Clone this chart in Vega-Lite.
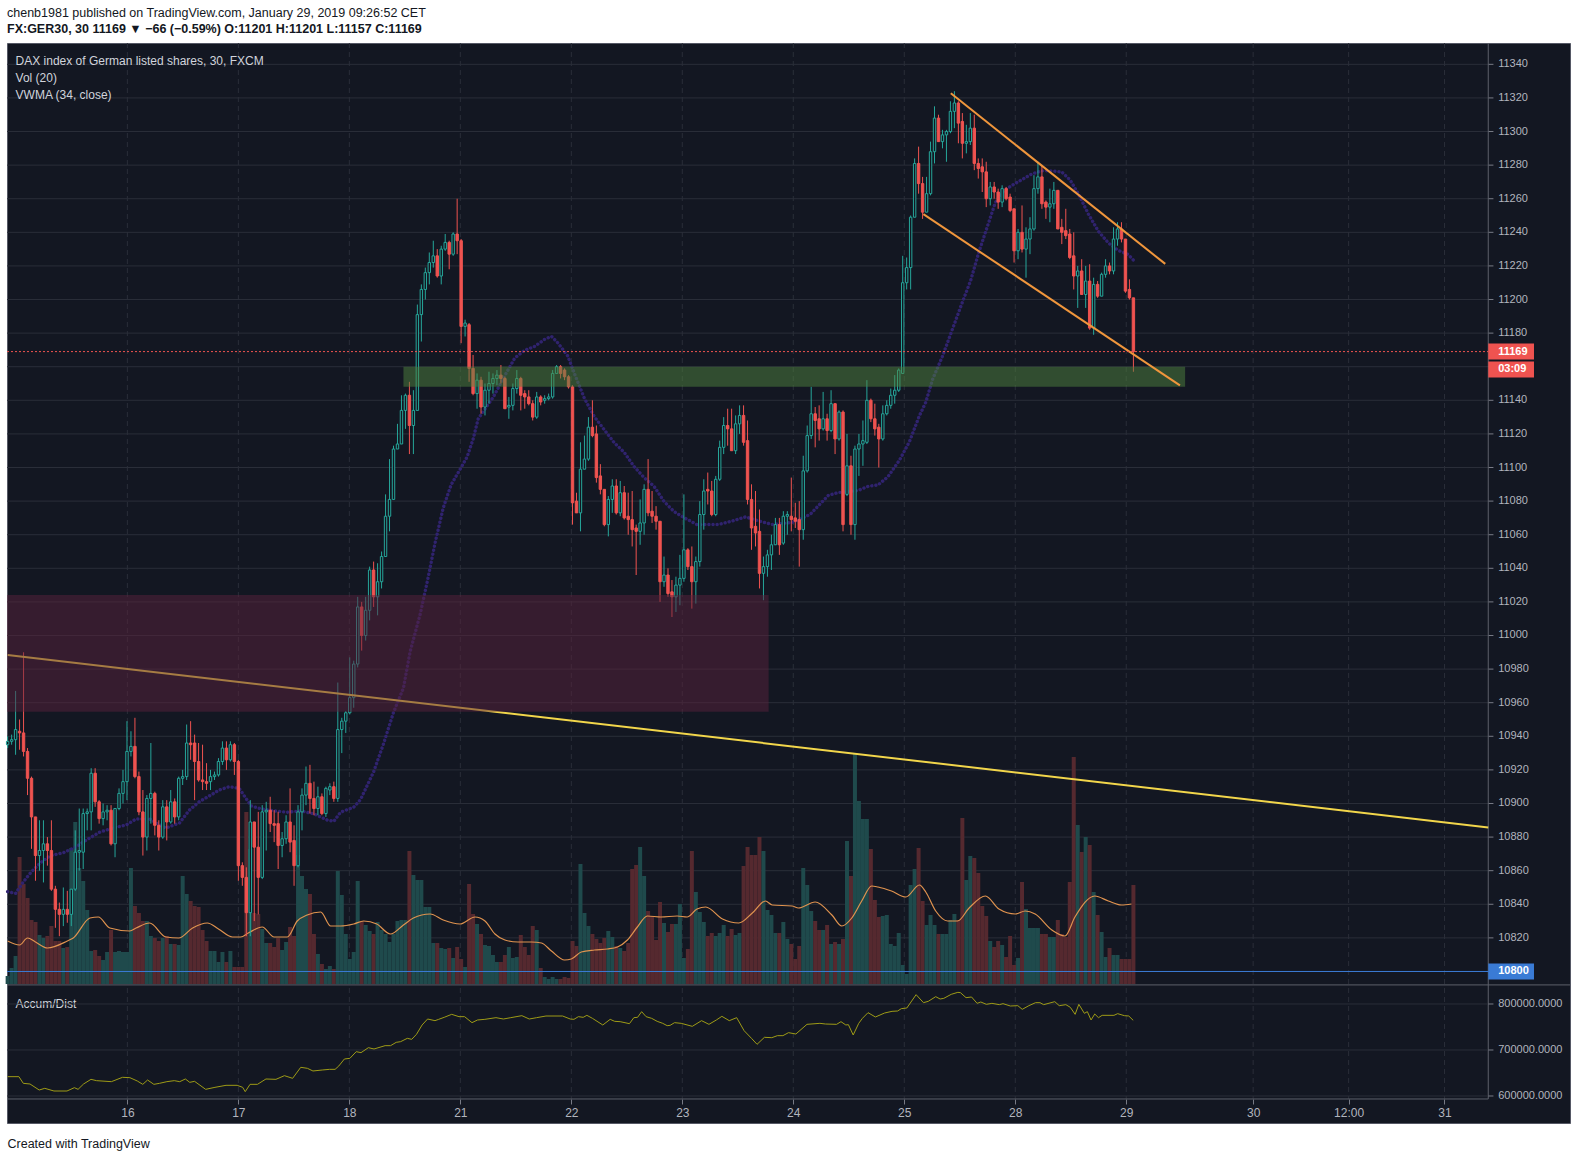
{
"$schema": "https://vega.github.io/schema/vega-lite/v6.json",
"width": 1563, "height": 1080, "autosize": "none",
"padding": {"left": 7, "top": 43, "right": 7, "bottom": 38},
"background": "white",
"config": {"view": {"fill": "#131722", "stroke": "#555865", "strokeWidth": 1}, "font": "Liberation Sans", "axis": {"grid": false, "domain": false}},
"title": {"text": "chenb1981 published on TradingView.com, January 29, 2019 09:26:52 CET", "subtitle": "FX:GER30, 30  11169 \u25bc \u221266 (\u22120.59%)  O:11201 H:11201 L:11157 C:11169", "anchor": "start", "frame": "group", "offset": 7, "font": "Liberation Sans", "fontSize": 12.5, "fontWeight": "normal", "color": "#131722", "subtitleFont": "Liberation Sans", "subtitleFontSize": 12.5, "subtitleFontWeight": "bold", "subtitleColor": "#131722", "subtitlePadding": 4},
"datasets": {
"days": [{"i":30.1},{"i":58},{"i":85.9},{"i":113.8},{"i":141.7},{"i":169.6},{"i":197.5},{"i":225.4},{"i":253.3},{"i":281.2},{"i":313.1},{"i":337.1},{"i":361.2}],
"hg": [{"p":10800},{"p":10820},{"p":10840},{"p":10860},{"p":10880},{"p":10900},{"p":10920},{"p":10940},{"p":10960},{"p":10980},{"p":11000},{"p":11020},{"p":11040},{"p":11060},{"p":11080},{"p":11100},{"p":11120},{"p":11140},{"p":11160},{"p":11180},{"p":11200},{"p":11220},{"p":11240},{"p":11260},{"p":11280},{"p":11300},{"p":11320},{"p":11340}],
"adg": [{"g":600000},{"g":700000},{"g":800000}],
"zones": [{"z":"res","a":-0.16,"b":191.3,"lo":10954.6,"hi":11024.1},{"z":"sup","a":99.5,"b":296,"lo":11148,"hi":11160}],
"tl": [{"i":0,"p":10988.4},{"i":372.2,"p":10885.7}],
"ch": [{"ln":"up","i":237.1,"p":11322.8},{"ln":"up","i":291,"p":11221.2},{"ln":"dn","i":230.2,"p":11250.8},{"ln":"dn","i":294.7,"p":11148.9}],
"tags": [{"t":"11169","p":11169,"k":"last"},{"t":"03:09","p":11158.4,"k":"last"},{"t":"10800","p":10800,"k":"line"}],
"notes": [{"n":"DAX index of German listed shares, 30, FXCM","i":2,"p":11342.1},{"n":"Vol (20)","i":2,"p":11331.8},{"n":"VWMA (34, close)","i":2,"p":11322},{"n":"Accum/Dist","i":2,"p":10780.5}],
"vma": [{"i":0,"v":215},{"i":3,"v":195},{"i":5,"v":230},{"i":7,"v":210},{"i":10,"v":180},{"i":15,"v":215},{"i":16.5,"v":230},{"i":20.7,"v":330},{"i":22.8,"v":335},{"i":25.7,"v":280},{"i":30.7,"v":265},{"i":32.3,"v":280},{"i":35.7,"v":305},{"i":39.8,"v":235},{"i":43,"v":230},{"i":46.5,"v":280},{"i":50.2,"v":305},{"i":53,"v":275},{"i":56.5,"v":235},{"i":58.6,"v":235},{"i":60.5,"v":255},{"i":64,"v":285},{"i":67,"v":235},{"i":70.3,"v":235},{"i":72.8,"v":315},{"i":75.3,"v":345},{"i":78.7,"v":360},{"i":81.2,"v":290},{"i":83.7,"v":290},{"i":87,"v":300},{"i":89.5,"v":315},{"i":92.8,"v":300},{"i":96.2,"v":250},{"i":99.5,"v":295},{"i":102,"v":330},{"i":106.2,"v":350},{"i":109.5,"v":320},{"i":113.7,"v":300},{"i":117.5,"v":335},{"i":120,"v":315},{"i":122.5,"v":250},{"i":125,"v":220},{"i":128.3,"v":210},{"i":131.7,"v":210},{"i":134.2,"v":205},{"i":136.7,"v":165},{"i":140,"v":120},{"i":141.7,"v":125},{"i":144.2,"v":160},{"i":147.5,"v":170},{"i":150.8,"v":175},{"i":153.3,"v":185},{"i":155.8,"v":220},{"i":158.3,"v":285},{"i":160.8,"v":340},{"i":164.2,"v":335},{"i":168.3,"v":340},{"i":170.8,"v":335},{"i":173.3,"v":375},{"i":175.5,"v":385},{"i":179.7,"v":325},{"i":183.8,"v":305},{"i":187.2,"v":355},{"i":190.5,"v":415},{"i":192.2,"v":395},{"i":197.2,"v":390},{"i":198.8,"v":380},{"i":203,"v":410},{"i":207.2,"v":345},{"i":209.7,"v":290},{"i":212.2,"v":330},{"i":214.7,"v":415},{"i":217.2,"v":490},{"i":218.8,"v":485},{"i":222.2,"v":465},{"i":225.8,"v":435},{"i":229.2,"v":495},{"i":230.8,"v":460},{"i":233.3,"v":365},{"i":236.3,"v":315},{"i":238.8,"v":315},{"i":241.7,"v":380},{"i":245.8,"v":440},{"i":249.2,"v":375},{"i":253.3,"v":350},{"i":255.8,"v":365},{"i":258.3,"v":350},{"i":262.5,"v":270},{"i":265.8,"v":240},{"i":268.3,"v":335},{"i":273.3,"v":440},{"i":276.7,"v":415},{"i":280,"v":395},{"i":282.5,"v":400}],
"vwma": [{"i":0,"p":10847.5},{"i":2,"p":10846.5},{"i":4,"p":10853.5},{"i":6,"p":10859.4},{"i":8.2,"p":10864.6},{"i":10.7,"p":10868.9},{"i":14,"p":10870.7},{"i":17.3,"p":10874.3},{"i":19.8,"p":10878.3},{"i":23.2,"p":10883},{"i":26.5,"p":10885.4},{"i":29.8,"p":10887.2},{"i":32.3,"p":10890.8},{"i":35.7,"p":10890.8},{"i":37.3,"p":10888.4},{"i":39.8,"p":10885.4},{"i":43.2,"p":10888.4},{"i":45.7,"p":10896.1},{"i":48.2,"p":10901.1},{"i":50.7,"p":10904.5},{"i":53.2,"p":10908},{"i":55.7,"p":10910},{"i":58.2,"p":10909},{"i":61.2,"p":10898.6},{"i":63.7,"p":10896.8},{"i":67,"p":10895.6},{"i":70.3,"p":10894.8},{"i":73.7,"p":10895.6},{"i":77,"p":10893.8},{"i":80.3,"p":10890.2},{"i":82,"p":10889.4},{"i":83.7,"p":10894.8},{"i":87,"p":10897.8},{"i":88.7,"p":10902.3},{"i":92,"p":10918.8},{"i":94.5,"p":10935.6},{"i":97,"p":10954.2},{"i":99.5,"p":10968.8},{"i":101.2,"p":10990.6},{"i":103.7,"p":11012.6},{"i":105.5,"p":11032.2},{"i":107.5,"p":11055.6},{"i":109.5,"p":11076},{"i":111.5,"p":11089.8},{"i":113.7,"p":11098.8},{"i":115.5,"p":11106.3},{"i":117,"p":11116.8},{"i":118.3,"p":11129},{"i":122.1,"p":11142},{"i":125,"p":11154.8},{"i":127.5,"p":11165.2},{"i":130,"p":11169.8},{"i":132.5,"p":11172.1},{"i":135,"p":11176.3},{"i":136.7,"p":11178.1},{"i":138.3,"p":11174.2},{"i":140.8,"p":11166.4},{"i":142.7,"p":11154.6},{"i":145,"p":11141.1},{"i":147.5,"p":11130.2},{"i":150,"p":11122.4},{"i":152.5,"p":11114.7},{"i":155,"p":11109},{"i":157.5,"p":11100.5},{"i":160,"p":11094},{"i":162.5,"p":11088.8},{"i":165,"p":11079.8},{"i":167.5,"p":11073.8},{"i":170,"p":11070.2},{"i":173.3,"p":11066},{"i":178.8,"p":11066.1},{"i":182.2,"p":11068.2},{"i":185.5,"p":11070.6},{"i":188.8,"p":11068.2},{"i":192.2,"p":11066.1},{"i":197.2,"p":11067.3},{"i":199.7,"p":11069.8},{"i":201.8,"p":11072.2},{"i":203.8,"p":11077.2},{"i":206.3,"p":11083.4},{"i":208.8,"p":11085.1},{"i":213.8,"p":11086.3},{"i":216.3,"p":11088.8},{"i":218.8,"p":11089.6},{"i":221.3,"p":11094.5},{"i":224.2,"p":11104.4},{"i":226.7,"p":11115.4},{"i":229.2,"p":11130.8},{"i":230.8,"p":11138.8},{"i":232.5,"p":11152.4},{"i":235,"p":11166.2},{"i":237.5,"p":11182.3},{"i":240,"p":11198.4},{"i":242.1,"p":11211.4},{"i":244.2,"p":11228.6},{"i":246.7,"p":11246.4},{"i":248.3,"p":11257.8},{"i":250.4,"p":11264.6},{"i":252.5,"p":11268},{"i":255,"p":11271.4},{"i":257.5,"p":11274.8},{"i":260,"p":11276.6},{"i":262.5,"p":11276.6},{"i":265,"p":11275.9},{"i":267.1,"p":11271.1},{"i":269.2,"p":11262.8},{"i":271.7,"p":11250.8},{"i":274.2,"p":11240.6},{"i":276.7,"p":11233.7},{"i":279.2,"p":11229.2},{"i":281.7,"p":11226.8},{"i":283,"p":11223.4}],
"ad": [{"i":0,"a":642030},{"i":2.83,"a":642030},{"i":3.94,"a":627540},{"i":5.62,"a":626090},{"i":7.93,"a":613040},{"i":9.34,"a":616670},{"i":11.65,"a":610870},{"i":14.92,"a":610870},{"i":16.78,"a":618120},{"i":17.71,"a":614490},{"i":19.09,"a":626090},{"i":20.95,"a":636240},{"i":22.36,"a":633330},{"i":26.08,"a":631160},{"i":28.87,"a":640590},{"i":30.73,"a":639850},{"i":32.59,"a":632610},{"i":33.97,"a":625370},{"i":35.18,"a":634780},{"i":36.76,"a":625370},{"i":38.17,"a":627540},{"i":40.03,"a":631160},{"i":41.89,"a":633330},{"i":43.27,"a":631160},{"i":44.68,"a":636960},{"i":45.78,"a":629710},{"i":46.99,"a":631890},{"i":49.78,"a":614490},{"i":52.12,"a":618850},{"i":54.9,"a":623200},{"i":57.7,"a":623200},{"i":59.08,"a":618850},{"i":59.73,"a":609420},{"i":60.94,"a":625370},{"i":62.8,"a":625370},{"i":64.93,"a":636960},{"i":67.45,"a":636240},{"i":69.58,"a":644200},{"i":71.64,"a":638410},{"i":73.68,"a":662330},{"i":75.36,"a":660160},{"i":76.75,"a":654350},{"i":79.08,"a":656520},{"i":80.94,"a":657980},{"i":82.32,"a":657980},{"i":83.25,"a":665220},{"i":84.66,"a":680440},{"i":86.04,"a":681890},{"i":87.63,"a":696380},{"i":88.83,"a":694200},{"i":90.69,"a":705070},{"i":92.1,"a":702180},{"i":94.89,"a":709420},{"i":96.27,"a":709420},{"i":97.68,"a":716670},{"i":98.79,"a":718120},{"i":100.47,"a":725370},{"i":101.58,"a":723200},{"i":102.78,"a":734070},{"i":104.19,"a":754350},{"i":105.57,"a":767390},{"i":107.43,"a":763770},{"i":108.36,"a":766670},{"i":109.74,"a":771010},{"i":111.63,"a":777540},{"i":113.46,"a":772460},{"i":114.87,"a":772460},{"i":116.73,"a":759420},{"i":118.11,"a":765220},{"i":119.97,"a":766670},{"i":122.76,"a":770280},{"i":124.62,"a":767390},{"i":126.48,"a":770280},{"i":129.27,"a":774630},{"i":131.13,"a":767390},{"i":132.99,"a":770280},{"i":135.33,"a":773910},{"i":139.5,"a":773910},{"i":141.43,"a":767390},{"i":142.36,"a":766670},{"i":143.48,"a":772460},{"i":144.68,"a":771010},{"i":145.61,"a":775370},{"i":147.01,"a":768850},{"i":149.61,"a":754350},{"i":151.47,"a":766670},{"i":152.59,"a":762320},{"i":153.98,"a":761600},{"i":156.31,"a":757250},{"i":157.42,"a":770280},{"i":158.35,"a":771010},{"i":159.38,"a":783330},{"i":160.49,"a":772460},{"i":161.89,"a":768850},{"i":163.28,"a":762320},{"i":164.67,"a":757970},{"i":165.79,"a":752900},{"i":166.53,"a":753620},{"i":167.65,"a":759420},{"i":169.32,"a":757970},{"i":172.11,"a":751450},{"i":174.44,"a":763770},{"i":176.3,"a":755800},{"i":178.16,"a":765220},{"i":179.55,"a":773190},{"i":181.41,"a":763770},{"i":183.27,"a":770280},{"i":185.13,"a":742020},{"i":186.99,"a":725370},{"i":188.39,"a":712330},{"i":190.24,"a":727550},{"i":192.1,"a":726800},{"i":193.5,"a":731160},{"i":194.89,"a":731160},{"i":196.29,"a":737680},{"i":198.15,"a":734780},{"i":200.94,"a":755800},{"i":204.19,"a":757970},{"i":205.59,"a":756520},{"i":208.38,"a":755800},{"i":209.49,"a":761600},{"i":210.7,"a":754350},{"i":211.35,"a":755070},{"i":212.56,"a":732610},{"i":213.95,"a":757970},{"i":214.88,"a":768850},{"i":216.28,"a":781160},{"i":218.14,"a":771740},{"i":220.46,"a":780430},{"i":222.32,"a":784060},{"i":223.72,"a":784780},{"i":224.65,"a":789850},{"i":226.04,"a":791300},{"i":228.37,"a":820280},{"i":230.23,"a":802900},{"i":231.43,"a":805800},{"i":233.3,"a":815940},{"i":234.41,"a":810870},{"i":235.34,"a":812320},{"i":237.2,"a":821020},{"i":238.87,"a":825370},{"i":239.52,"a":824630},{"i":240.92,"a":813770},{"i":242.31,"a":815220},{"i":243.71,"a":801450},{"i":244.64,"a":804350},{"i":246.03,"a":799280},{"i":247.43,"a":801450},{"i":249.29,"a":798540},{"i":250.22,"a":800720},{"i":252.08,"a":795650},{"i":253.94,"a":796370},{"i":255.05,"a":788410},{"i":256.73,"a":796370},{"i":258.4,"a":802900},{"i":259.51,"a":802900},{"i":260.44,"a":798540},{"i":263.24,"a":805070},{"i":264.35,"a":796370},{"i":266.02,"a":798540},{"i":267.14,"a":792760},{"i":268.35,"a":777540},{"i":269.28,"a":799280},{"i":270.67,"a":779720},{"i":271.42,"a":783330},{"i":272.35,"a":765220},{"i":273.28,"a":778260},{"i":274.21,"a":770280},{"i":275.14,"a":775370},{"i":278.11,"a":775370},{"i":279.04,"a":778980},{"i":280.72,"a":774630},{"i":281.83,"a":773910},{"i":282.95,"a":764500}],
"bars": [
{"i":0,"o":10935,"h":10940,"l":10933,"c":10937,"v":40},
{"i":1,"o":10937,"h":10941,"l":10935,"c":10938,"v":80},
{"i":2,"o":10938,"h":10967,"l":10929,"c":10944,"v":140},
{"i":3,"o":10943,"h":10950,"l":10932,"c":10942,"v":635},
{"i":4,"o":10942,"h":10990,"l":10928,"c":10931,"v":500},
{"i":5,"o":10931,"h":10933,"l":10905,"c":10915,"v":430},
{"i":6,"o":10915,"h":10916,"l":10873,"c":10892,"v":320},
{"i":7,"o":10892,"h":10892,"l":10854,"c":10869,"v":310},
{"i":8,"o":10869,"h":10890,"l":10860,"c":10872,"v":245},
{"i":9,"o":10872,"h":10890,"l":10853,"c":10876,"v":230},
{"i":10,"o":10876,"h":10880,"l":10863,"c":10872,"v":240},
{"i":11,"o":10872,"h":10890,"l":10848,"c":10849,"v":290},
{"i":12,"o":10849,"h":10851,"l":10826,"c":10837,"v":215},
{"i":13,"o":10837,"h":10841,"l":10821,"c":10834,"v":215},
{"i":14,"o":10834,"h":10850,"l":10827,"c":10837,"v":180},
{"i":15,"o":10837,"h":10848,"l":10829,"c":10834,"v":185},
{"i":16,"o":10834,"h":10849,"l":10827,"c":10849,"v":680},
{"i":17,"o":10849,"h":10884,"l":10848,"c":10871,"v":810},
{"i":18,"o":10871,"h":10897,"l":10860,"c":10872,"v":580},
{"i":19,"o":10871,"h":10897,"l":10861,"c":10894,"v":515},
{"i":20,"o":10894,"h":10897,"l":10884,"c":10895,"v":370},
{"i":21,"o":10895,"h":10921,"l":10884,"c":10918,"v":165},
{"i":22,"o":10918,"h":10921,"l":10898,"c":10901,"v":170},
{"i":23,"o":10901,"h":10902,"l":10888,"c":10891,"v":140},
{"i":24,"o":10891,"h":10900,"l":10887,"c":10895,"v":120},
{"i":25,"o":10895,"h":10899,"l":10890,"c":10896,"v":160},
{"i":26,"o":10896,"h":10899,"l":10875,"c":10876,"v":270},
{"i":27,"o":10876,"h":10897,"l":10868,"c":10897,"v":160},
{"i":28,"o":10897,"h":10909,"l":10896,"c":10906,"v":165},
{"i":29,"o":10906,"h":10920,"l":10900,"c":10913,"v":160},
{"i":30,"o":10913,"h":10949,"l":10902,"c":10931,"v":160},
{"i":31,"o":10931,"h":10943,"l":10928,"c":10934,"v":580},
{"i":32,"o":10934,"h":10951,"l":10915,"c":10916,"v":390},
{"i":33,"o":10916,"h":10919,"l":10893,"c":10895,"v":355},
{"i":34,"o":10895,"h":10908,"l":10869,"c":10880,"v":315},
{"i":35,"o":10880,"h":10905,"l":10872,"c":10903,"v":315},
{"i":36,"o":10903,"h":10936,"l":10888,"c":10906,"v":240},
{"i":37,"o":10906,"h":10907,"l":10881,"c":10887,"v":230},
{"i":38,"o":10887,"h":10890,"l":10872,"c":10880,"v":215},
{"i":39,"o":10880,"h":10902,"l":10879,"c":10898,"v":230},
{"i":40,"o":10898,"h":10902,"l":10878,"c":10889,"v":240},
{"i":41,"o":10889,"h":10908,"l":10888,"c":10901,"v":200},
{"i":42,"o":10901,"h":10903,"l":10888,"c":10892,"v":200},
{"i":43,"o":10892,"h":10916,"l":10890,"c":10915,"v":195},
{"i":44,"o":10915,"h":10920,"l":10911,"c":10916,"v":540},
{"i":45,"o":10916,"h":10947,"l":10914,"c":10936,"v":450},
{"i":46,"o":10936,"h":10949,"l":10926,"c":10935,"v":415},
{"i":47,"o":10936,"h":10941,"l":10902,"c":10925,"v":390},
{"i":48,"o":10925,"h":10936,"l":10913,"c":10914,"v":385},
{"i":49,"o":10914,"h":10935,"l":10908,"c":10913,"v":270},
{"i":50,"o":10913,"h":10924,"l":10908,"c":10912,"v":215},
{"i":51,"o":10913,"h":10920,"l":10908,"c":10916,"v":165},
{"i":52,"o":10916,"h":10919,"l":10914,"c":10917,"v":165},
{"i":53,"o":10917,"h":10927,"l":10916,"c":10925,"v":110},
{"i":54,"o":10925,"h":10937,"l":10923,"c":10933,"v":160},
{"i":55,"o":10933,"h":10937,"l":10920,"c":10926,"v":110},
{"i":56,"o":10926,"h":10937,"l":10925,"c":10935,"v":165},
{"i":57,"o":10935,"h":10936,"l":10917,"c":10925,"v":85},
{"i":58,"o":10925,"h":10926,"l":10854,"c":10863,"v":85},
{"i":59,"o":10863,"h":10865,"l":10851,"c":10856,"v":85},
{"i":60,"o":10856,"h":10862,"l":10821,"c":10835,"v":860},
{"i":61,"o":10835,"h":10902,"l":10821,"c":10889,"v":675},
{"i":62,"o":10889,"h":10889,"l":10830,"c":10874,"v":355},
{"i":63,"o":10874,"h":10895,"l":10834,"c":10856,"v":350},
{"i":64,"o":10856,"h":10899,"l":10855,"c":10895,"v":275},
{"i":65,"o":10895,"h":10901,"l":10872,"c":10896,"v":205},
{"i":66,"o":10896,"h":10904,"l":10883,"c":10888,"v":205},
{"i":67,"o":10888,"h":10896,"l":10877,"c":10887,"v":185},
{"i":68,"o":10888,"h":10895,"l":10861,"c":10875,"v":230},
{"i":69,"o":10875,"h":10883,"l":10868,"c":10879,"v":170},
{"i":70,"o":10879,"h":10893,"l":10876,"c":10889,"v":210},
{"i":71,"o":10889,"h":10909,"l":10871,"c":10877,"v":285},
{"i":72,"o":10878,"h":10887,"l":10851,"c":10863,"v":240},
{"i":73,"o":10863,"h":10899,"l":10862,"c":10895,"v":645},
{"i":74,"o":10895,"h":10909,"l":10884,"c":10905,"v":540},
{"i":75,"o":10905,"h":10922,"l":10899,"c":10912,"v":475},
{"i":76,"o":10912,"h":10923,"l":10894,"c":10903,"v":450},
{"i":77,"o":10903,"h":10913,"l":10893,"c":10897,"v":250},
{"i":78,"o":10897,"h":10910,"l":10893,"c":10904,"v":150},
{"i":79,"o":10904,"h":10906,"l":10893,"c":10894,"v":100},
{"i":80,"o":10894,"h":10910,"l":10892,"c":10909,"v":75},
{"i":81,"o":10908,"h":10912,"l":10905,"c":10910,"v":90},
{"i":82,"o":10910,"h":10913,"l":10901,"c":10903,"v":75},
{"i":83,"o":10903,"h":10972,"l":10901,"c":10944,"v":565},
{"i":84,"o":10944,"h":10951,"l":10930,"c":10949,"v":445},
{"i":85,"o":10949,"h":10955,"l":10942,"c":10954,"v":250},
{"i":86,"o":10954,"h":10987,"l":10953,"c":10963,"v":125},
{"i":87,"o":10963,"h":10985,"l":10957,"c":10983,"v":160},
{"i":88,"o":10983,"h":11023,"l":10981,"c":11017,"v":515},
{"i":89,"o":11017,"h":11020,"l":10991,"c":11000,"v":315},
{"i":90,"o":11000,"h":11023,"l":10997,"c":11015,"v":295},
{"i":91,"o":11015,"h":11041,"l":11009,"c":11039,"v":265},
{"i":92,"o":11039,"h":11044,"l":11017,"c":11023,"v":250},
{"i":93,"o":11023,"h":11043,"l":11012,"c":11032,"v":310},
{"i":94,"o":11032,"h":11050,"l":11028,"c":11047,"v":270},
{"i":95,"o":11047,"h":11084,"l":11047,"c":11071,"v":250},
{"i":96,"o":11071,"h":11105,"l":11062,"c":11081,"v":210},
{"i":97,"o":11081,"h":11113,"l":11081,"c":11111,"v":250},
{"i":98,"o":11111,"h":11126,"l":11111,"c":11114,"v":315},
{"i":99,"o":11114,"h":11143,"l":11114,"c":11134,"v":320},
{"i":100,"o":11134,"h":11144,"l":11123,"c":11143,"v":320},
{"i":101,"o":11143,"h":11151,"l":11108,"c":11125,"v":665},
{"i":102,"o":11125,"h":11146,"l":11108,"c":11134,"v":545},
{"i":103,"o":11134,"h":11197,"l":11134,"c":11191,"v":520},
{"i":104,"o":11191,"h":11209,"l":11175,"c":11206,"v":520},
{"i":105,"o":11206,"h":11219,"l":11200,"c":11216,"v":385},
{"i":106,"o":11216,"h":11228,"l":11209,"c":11222,"v":385},
{"i":107,"o":11222,"h":11235,"l":11219,"c":11226,"v":205},
{"i":108,"o":11226,"h":11230,"l":11213,"c":11214,"v":205},
{"i":109,"o":11214,"h":11232,"l":11209,"c":11230,"v":180},
{"i":110,"o":11230,"h":11239,"l":11229,"c":11234,"v":175},
{"i":111,"o":11234,"h":11235,"l":11218,"c":11227,"v":180},
{"i":112,"o":11227,"h":11240,"l":11226,"c":11239,"v":130},
{"i":113,"o":11239,"h":11260,"l":11227,"c":11235,"v":185},
{"i":114,"o":11235,"h":11236,"l":11174,"c":11184,"v":125},
{"i":115,"o":11184,"h":11188,"l":11178,"c":11186,"v":85},
{"i":116,"o":11185,"h":11186,"l":11151,"c":11159,"v":500},
{"i":117,"o":11159,"h":11167,"l":11143,"c":11144,"v":350},
{"i":118,"o":11144,"h":11156,"l":11135,"c":11152,"v":300},
{"i":119,"o":11152,"h":11154,"l":11132,"c":11136,"v":250},
{"i":120,"o":11136,"h":11150,"l":11131,"c":11146,"v":195},
{"i":121,"o":11146,"h":11157,"l":11138,"c":11150,"v":190},
{"i":122,"o":11150,"h":11156,"l":11144,"c":11153,"v":145},
{"i":123,"o":11153,"h":11158,"l":11149,"c":11155,"v":110},
{"i":124,"o":11155,"h":11161,"l":11150,"c":11153,"v":110},
{"i":125,"o":11153,"h":11154,"l":11135,"c":11135,"v":145},
{"i":126,"o":11136,"h":11142,"l":11129,"c":11137,"v":185},
{"i":127,"o":11137,"h":11150,"l":11134,"c":11147,"v":130},
{"i":128,"o":11147,"h":11158,"l":11144,"c":11153,"v":135},
{"i":129,"o":11153,"h":11154,"l":11134,"c":11143,"v":245},
{"i":130,"o":11144,"h":11146,"l":11135,"c":11142,"v":185},
{"i":131,"o":11142,"h":11146,"l":11137,"c":11138,"v":145},
{"i":132,"o":11138,"h":11140,"l":11128,"c":11130,"v":290},
{"i":133,"o":11130,"h":11145,"l":11129,"c":11142,"v":270},
{"i":134,"o":11142,"h":11143,"l":11137,"c":11139,"v":80},
{"i":135,"o":11140,"h":11143,"l":11138,"c":11141,"v":35},
{"i":136,"o":11141,"h":11144,"l":11140,"c":11142,"v":25},
{"i":137,"o":11142,"h":11158,"l":11141,"c":11156,"v":35},
{"i":138,"o":11156,"h":11161,"l":11156,"c":11160,"v":25},
{"i":139,"o":11160,"h":11161,"l":11153,"c":11156,"v":25},
{"i":140,"o":11158,"h":11159,"l":11152,"c":11154,"v":35},
{"i":141,"o":11154,"h":11155,"l":11147,"c":11148,"v":30},
{"i":142,"o":11148,"h":11149,"l":11066,"c":11079,"v":215},
{"i":143,"o":11080,"h":11085,"l":11073,"c":11073,"v":190},
{"i":144,"o":11073,"h":11115,"l":11062,"c":11099,"v":600},
{"i":145,"o":11099,"h":11119,"l":11099,"c":11105,"v":355},
{"i":146,"o":11105,"h":11130,"l":11104,"c":11124,"v":290},
{"i":147,"o":11124,"h":11140,"l":11118,"c":11119,"v":250},
{"i":148,"o":11120,"h":11125,"l":11091,"c":11094,"v":225},
{"i":149,"o":11095,"h":11102,"l":11084,"c":11087,"v":205},
{"i":150,"o":11087,"h":11087,"l":11065,"c":11066,"v":230},
{"i":151,"o":11066,"h":11083,"l":11059,"c":11081,"v":265},
{"i":152,"o":11081,"h":11093,"l":11073,"c":11089,"v":235},
{"i":153,"o":11089,"h":11093,"l":11072,"c":11073,"v":190},
{"i":154,"o":11073,"h":11092,"l":11071,"c":11085,"v":180},
{"i":155,"o":11085,"h":11089,"l":11069,"c":11070,"v":165},
{"i":156,"o":11071,"h":11085,"l":11060,"c":11069,"v":205},
{"i":157,"o":11069,"h":11086,"l":11053,"c":11063,"v":575},
{"i":158,"o":11064,"h":11066,"l":11036,"c":11062,"v":595},
{"i":159,"o":11062,"h":11081,"l":11054,"c":11067,"v":685},
{"i":160,"o":11067,"h":11090,"l":11060,"c":11087,"v":540},
{"i":161,"o":11087,"h":11105,"l":11071,"c":11073,"v":365},
{"i":162,"o":11074,"h":11086,"l":11067,"c":11071,"v":340},
{"i":163,"o":11071,"h":11077,"l":11063,"c":11068,"v":220},
{"i":164,"o":11068,"h":11068,"l":11020,"c":11032,"v":410},
{"i":165,"o":11032,"h":11047,"l":11029,"c":11036,"v":305},
{"i":166,"o":11036,"h":11040,"l":11023,"c":11025,"v":260},
{"i":167,"o":11026,"h":11033,"l":11011,"c":11023,"v":300},
{"i":168,"o":11023,"h":11035,"l":11014,"c":11030,"v":300},
{"i":169,"o":11030,"h":11048,"l":11018,"c":11034,"v":400},
{"i":170,"o":11034,"h":11084,"l":11032,"c":11051,"v":130},
{"i":171,"o":11051,"h":11052,"l":11039,"c":11041,"v":175},
{"i":172,"o":11041,"h":11053,"l":11016,"c":11032,"v":665},
{"i":173,"o":11032,"h":11047,"l":11019,"c":11044,"v":460},
{"i":174,"o":11044,"h":11080,"l":11041,"c":11072,"v":360},
{"i":175,"o":11072,"h":11093,"l":11063,"c":11086,"v":310},
{"i":176,"o":11087,"h":11097,"l":11078,"c":11086,"v":240},
{"i":177,"o":11086,"h":11092,"l":11071,"c":11072,"v":255},
{"i":178,"o":11072,"h":11095,"l":11071,"c":11093,"v":240},
{"i":179,"o":11093,"h":11116,"l":11092,"c":11112,"v":255},
{"i":180,"o":11112,"h":11130,"l":11108,"c":11125,"v":295},
{"i":181,"o":11125,"h":11135,"l":11113,"c":11123,"v":240},
{"i":182,"o":11123,"h":11135,"l":11110,"c":11110,"v":275},
{"i":183,"o":11110,"h":11131,"l":11108,"c":11126,"v":245},
{"i":184,"o":11126,"h":11137,"l":11120,"c":11131,"v":255},
{"i":185,"o":11131,"h":11137,"l":11113,"c":11115,"v":590},
{"i":186,"o":11116,"h":11128,"l":11078,"c":11081,"v":685},
{"i":187,"o":11081,"h":11090,"l":11051,"c":11064,"v":645},
{"i":188,"o":11065,"h":11086,"l":11053,"c":11061,"v":645},
{"i":189,"o":11062,"h":11075,"l":11028,"c":11037,"v":735},
{"i":190,"o":11037,"h":11047,"l":11021,"c":11041,"v":665},
{"i":191,"o":11041,"h":11051,"l":11035,"c":11048,"v":370},
{"i":192,"o":11048,"h":11060,"l":11039,"c":11054,"v":345},
{"i":193,"o":11054,"h":11070,"l":11054,"c":11066,"v":255},
{"i":194,"o":11066,"h":11070,"l":11048,"c":11054,"v":255},
{"i":195,"o":11055,"h":11074,"l":11054,"c":11071,"v":310},
{"i":196,"o":11071,"h":11074,"l":11060,"c":11072,"v":225},
{"i":197,"o":11071,"h":11094,"l":11062,"c":11069,"v":200},
{"i":198,"o":11070,"h":11079,"l":11064,"c":11068,"v":125},
{"i":199,"o":11069,"h":11080,"l":11041,"c":11063,"v":190},
{"i":200,"o":11063,"h":11107,"l":11057,"c":11098,"v":580},
{"i":201,"o":11098,"h":11125,"l":11097,"c":11119,"v":495},
{"i":202,"o":11119,"h":11148,"l":11117,"c":11132,"v":365},
{"i":203,"o":11132,"h":11136,"l":11112,"c":11128,"v":315},
{"i":204,"o":11129,"h":11137,"l":11116,"c":11123,"v":270},
{"i":205,"o":11123,"h":11145,"l":11122,"c":11129,"v":270},
{"i":206,"o":11129,"h":11132,"l":11116,"c":11122,"v":295},
{"i":207,"o":11122,"h":11146,"l":11121,"c":11138,"v":200},
{"i":208,"o":11138,"h":11138,"l":11108,"c":11117,"v":210},
{"i":209,"o":11117,"h":11134,"l":11116,"c":11133,"v":200},
{"i":210,"o":11133,"h":11134,"l":11062,"c":11066,"v":225},
{"i":211,"o":11084,"h":11120,"l":11083,"c":11101,"v":715},
{"i":212,"o":11101,"h":11107,"l":11060,"c":11066,"v":540},
{"i":213,"o":11066,"h":11113,"l":11057,"c":11111,"v":1150},
{"i":214,"o":11111,"h":11120,"l":11095,"c":11114,"v":915},
{"i":215,"o":11114,"h":11128,"l":11101,"c":11116,"v":825},
{"i":216,"o":11115,"h":11152,"l":11114,"c":11140,"v":825},
{"i":217,"o":11140,"h":11141,"l":11127,"c":11129,"v":675},
{"i":218,"o":11129,"h":11138,"l":11119,"c":11123,"v":420},
{"i":219,"o":11124,"h":11126,"l":11100,"c":11117,"v":335},
{"i":220,"o":11117,"h":11137,"l":11116,"c":11132,"v":340},
{"i":221,"o":11132,"h":11140,"l":11131,"c":11137,"v":345},
{"i":222,"o":11137,"h":11147,"l":11135,"c":11143,"v":200},
{"i":223,"o":11143,"h":11155,"l":11138,"c":11146,"v":190},
{"i":224,"o":11146,"h":11159,"l":11145,"c":11158,"v":255},
{"i":225,"o":11156,"h":11226,"l":11156,"c":11210,"v":95},
{"i":226,"o":11210,"h":11225,"l":11206,"c":11219,"v":50},
{"i":227,"o":11219,"h":11250,"l":11206,"c":11249,"v":495},
{"i":228,"o":11249,"h":11284,"l":11249,"c":11281,"v":575},
{"i":229,"o":11281,"h":11291,"l":11263,"c":11269,"v":680},
{"i":230,"o":11269,"h":11273,"l":11248,"c":11252,"v":415},
{"i":231,"o":11252,"h":11273,"l":11252,"c":11263,"v":295},
{"i":232,"o":11263,"h":11294,"l":11262,"c":11288,"v":345},
{"i":233,"o":11288,"h":11315,"l":11281,"c":11308,"v":295},
{"i":234,"o":11308,"h":11310,"l":11294,"c":11294,"v":250},
{"i":235,"o":11294,"h":11301,"l":11290,"c":11298,"v":250},
{"i":236,"o":11298,"h":11301,"l":11282,"c":11300,"v":250},
{"i":237,"o":11300,"h":11318,"l":11299,"c":11312,"v":320},
{"i":238,"o":11312,"h":11324,"l":11302,"c":11317,"v":350},
{"i":239,"o":11317,"h":11318,"l":11293,"c":11305,"v":320},
{"i":240,"o":11306,"h":11311,"l":11284,"c":11293,"v":830},
{"i":241,"o":11293,"h":11304,"l":11287,"c":11294,"v":520},
{"i":242,"o":11294,"h":11311,"l":11292,"c":11302,"v":640},
{"i":243,"o":11302,"h":11310,"l":11277,"c":11281,"v":630},
{"i":244,"o":11281,"h":11284,"l":11272,"c":11278,"v":555},
{"i":245,"o":11279,"h":11284,"l":11264,"c":11276,"v":390},
{"i":246,"o":11276,"h":11282,"l":11255,"c":11260,"v":340},
{"i":247,"o":11260,"h":11270,"l":11256,"c":11267,"v":215},
{"i":248,"o":11267,"h":11270,"l":11260,"c":11264,"v":185},
{"i":249,"o":11264,"h":11266,"l":11254,"c":11258,"v":215},
{"i":250,"o":11258,"h":11268,"l":11255,"c":11266,"v":195},
{"i":251,"o":11266,"h":11267,"l":11259,"c":11260,"v":135},
{"i":252,"o":11261,"h":11263,"l":11252,"c":11253,"v":240},
{"i":253,"o":11254,"h":11254,"l":11222,"c":11229,"v":95},
{"i":254,"o":11229,"h":11242,"l":11224,"c":11240,"v":130},
{"i":255,"o":11240,"h":11256,"l":11228,"c":11230,"v":510},
{"i":256,"o":11230,"h":11243,"l":11213,"c":11236,"v":375},
{"i":257,"o":11236,"h":11249,"l":11227,"c":11242,"v":280},
{"i":258,"o":11242,"h":11274,"l":11241,"c":11266,"v":280},
{"i":259,"o":11266,"h":11282,"l":11263,"c":11273,"v":280},
{"i":260,"o":11273,"h":11280,"l":11254,"c":11257,"v":250},
{"i":261,"o":11258,"h":11259,"l":11248,"c":11255,"v":250},
{"i":262,"o":11255,"h":11266,"l":11246,"c":11257,"v":235},
{"i":263,"o":11257,"h":11270,"l":11254,"c":11265,"v":235},
{"i":264,"o":11265,"h":11265,"l":11242,"c":11242,"v":320},
{"i":265,"o":11243,"h":11248,"l":11233,"c":11240,"v":250},
{"i":266,"o":11241,"h":11254,"l":11236,"c":11238,"v":235},
{"i":267,"o":11239,"h":11242,"l":11224,"c":11225,"v":510},
{"i":268,"o":11226,"h":11240,"l":11206,"c":11214,"v":1135},
{"i":269,"o":11214,"h":11220,"l":11195,"c":11217,"v":795},
{"i":270,"o":11217,"h":11224,"l":11203,"c":11203,"v":660},
{"i":271,"o":11203,"h":11220,"l":11195,"c":11211,"v":735},
{"i":272,"o":11211,"h":11221,"l":11182,"c":11183,"v":695},
{"i":273,"o":11183,"h":11213,"l":11179,"c":11209,"v":460},
{"i":274,"o":11209,"h":11211,"l":11201,"c":11202,"v":345},
{"i":275,"o":11202,"h":11216,"l":11202,"c":11215,"v":260},
{"i":276,"o":11215,"h":11224,"l":11213,"c":11220,"v":135},
{"i":277,"o":11220,"h":11222,"l":11215,"c":11217,"v":180},
{"i":278,"o":11217,"h":11243,"l":11215,"c":11236,"v":145},
{"i":279,"o":11236,"h":11246,"l":11232,"c":11242,"v":145},
{"i":280,"o":11242,"h":11246,"l":11234,"c":11236,"v":125},
{"i":281,"o":11236,"h":11236,"l":11204,"c":11205,"v":125},
{"i":282,"o":11206,"h":11212,"l":11200,"c":11201,"v":125},
{"i":283,"o":11201,"h":11201,"l":11157,"c":11169,"v":495}
]
},
"resolve": {"scale": {"y": "independent"}, "axis": {"y": "independent"}},
"layer": [
{"layer": [
 {"data": {"name": "days"}, "mark": {"type": "rule", "color": "#2a2e39", "strokeDash": [5, 4], "strokeWidth": 1},
  "encoding": {
   "x": {"field": "i", "type": "quantitative", "scale": {"domain": [-0.16, 392.75], "nice": false, "zero": false, "padding": 0},
     "axis": {"orient": "bottom", "offset": -24, "values": [30.1, 58, 85.9, 113.8, 141.7, 169.6, 197.5, 225.4, 253.3, 281.2, 313.1, 337.1, 361.2],
       "labelExpr": "['16','17','18','21','22','23','24','25','28','29','30','12:00','31'][indexof([30.1,58,85.9,113.8,141.7,169.6,197.5,225.4,253.3,281.2,313.1,337.1,361.2], datum.value)]",
       "domain": false, "grid": false, "ticks": true, "tickSize": 5, "tickColor": "#787b86", "labelColor": "#b2b5be", "labelFont": "Liberation Sans", "labelFontSize": 12, "labelPadding": 3, "labelOverlap": false, "labelFlush": false, "labelBound": false,
       "title": "Created with TradingView", "titleX": 0, "titleY": 44, "titleAlign": "left", "titleAnchor": "start", "titleBaseline": "middle", "titleColor": "#131722", "titleFont": "Liberation Sans", "titleFontSize": 12.5, "titleFontWeight": "normal"}},
   "y": {"datum": 11352.7, "type": "quantitative", "scale": {"domain": [10709.8, 11352.7], "nice": false, "zero": false, "padding": 0}, "axis": null},
   "y2": {"datum": 10724.1}
  }},
 {"data": {"name": "hg"}, "mark": {"type": "rule", "color": "#2a2e39", "strokeWidth": 1},
  "encoding": {"x": {"datum": -0.16, "type": "quantitative"}, "x2": {"datum": 372.2}, "y": {"field": "p", "type": "quantitative", "axis": null}}},
 {"data": {"name": "hg"}, "mark": {"type": "rule", "color": "#787b86", "strokeWidth": 1},
  "encoding": {"x": {"datum": 372.2, "type": "quantitative"}, "x2": {"datum": 373.5}, "y": {"field": "p", "type": "quantitative", "axis": null}}},
 {"data": {"name": "hg"}, "mark": {"type": "text", "align": "left", "baseline": "middle", "color": "#b2b5be", "fontSize": 11},
  "encoding": {"x": {"datum": 374.7, "type": "quantitative"}, "y": {"field": "p", "type": "quantitative", "axis": null}, "text": {"field": "p", "type": "quantitative", "format": "d"}}},
 {"data": {"values": [{}]}, "mark": {"type": "rule", "color": "#5d606b", "strokeWidth": 1},
  "encoding": {"x": {"datum": -0.16, "type": "quantitative"}, "x2": {"datum": 392.75}, "y": {"datum": 10792, "type": "quantitative", "axis": null}}},
 {"data": {"values": [{}]}, "mark": {"type": "rule", "color": "#5d606b", "strokeWidth": 1},
  "encoding": {"x": {"datum": -0.16, "type": "quantitative"}, "x2": {"datum": 372.2}, "y": {"datum": 10724.1, "type": "quantitative", "axis": null}}},
 {"data": {"values": [{}]}, "mark": {"type": "rule", "color": "#5d606b", "strokeWidth": 1},
  "encoding": {"x": {"datum": 372.2, "type": "quantitative"}, "y": {"datum": 11352.7, "type": "quantitative", "axis": null}, "y2": {"datum": 10724.1}}}
]},
{"data": {"name": "bars"}, "layer": [
 {"mark": {"type": "bar", "width": 4},
  "encoding": {
   "x": {"field": "i", "type": "quantitative"},
   "y": {"field": "v", "type": "quantitative", "scale": {"domain": [-695, 4705], "nice": false, "zero": false, "padding": 0}, "axis": null},
   "y2": {"datum": 0},
   "color": {"condition": {"test": "datum.c >= datum.o", "value": "#1f4a4c"}, "value": "#55292f"}
  }},
 {"data": {"name": "vma"}, "mark": {"type": "line", "color": "#e0934f", "strokeWidth": 1.2, "interpolate": "monotone"},
  "encoding": {"x": {"field": "i", "type": "quantitative"}, "y": {"field": "v", "type": "quantitative", "axis": null}}}
]},
{"layer": [
 {"data": {"name": "vwma"}, "mark": {"type": "line", "color": "#30236f", "strokeWidth": 3.4, "strokeDash": [0.1, 4], "strokeCap": "round"},
  "encoding": {"x": {"field": "i", "type": "quantitative"}, "y": {"field": "p", "type": "quantitative", "scale": {"domain": [10709.8, 11352.7], "nice": false, "zero": false, "padding": 0}, "axis": null}}},
 {"data": {"name": "bars"}, "mark": {"type": "rule", "strokeWidth": 1},
  "encoding": {"x": {"field": "i", "type": "quantitative"}, "y": {"field": "l", "type": "quantitative", "axis": null}, "y2": {"field": "h"},
   "color": {"condition": {"test": "datum.c >= datum.o", "value": "#26a69a"}, "value": "#ef5350"}}},
 {"data": {"name": "bars"}, "mark": {"type": "bar", "width": 2.4, "strokeWidth": 1},
  "encoding": {"x": {"field": "i", "type": "quantitative"}, "y": {"field": "o", "type": "quantitative", "axis": null}, "y2": {"field": "c"},
   "fill": {"condition": {"test": "datum.c >= datum.o", "value": "#131722"}, "value": "#ef5350"},
   "stroke": {"condition": {"test": "datum.c >= datum.o", "value": "#26a69a"}, "value": "#ef5350"}}},
 {"data": {"name": "tl"}, "mark": {"type": "line", "color": "#f2d64b", "strokeWidth": 2},
  "encoding": {"x": {"field": "i", "type": "quantitative"}, "y": {"field": "p", "type": "quantitative", "axis": null}}},
 {"data": {"name": "zones"}, "mark": {"type": "rect", "opacity": 0.5},
  "encoding": {"x": {"field": "a", "type": "quantitative"}, "x2": {"field": "b"}, "y": {"field": "lo", "type": "quantitative", "axis": null}, "y2": {"field": "hi"},
   "color": {"field": "z", "type": "nominal", "scale": {"domain": ["res", "sup", "last", "line"], "range": ["#59213c", "#4f833e", "#ef5350", "#3a7bd5"]}, "legend": null}}},
 {"data": {"name": "ch"}, "mark": {"type": "line", "color": "#f0963c", "strokeWidth": 2},
  "encoding": {"x": {"field": "i", "type": "quantitative"}, "y": {"field": "p", "type": "quantitative", "axis": null}, "detail": {"field": "ln"}}},
 {"data": {"values": [{}]}, "mark": {"type": "rule", "color": "#ef5350", "strokeDash": [2, 2], "strokeWidth": 1},
  "encoding": {"x": {"datum": -0.16, "type": "quantitative"}, "x2": {"datum": 372.2}, "y": {"datum": 11169, "type": "quantitative", "axis": null}}},
 {"data": {"values": [{}]}, "mark": {"type": "rule", "color": "#3a7bd5", "strokeWidth": 1},
  "encoding": {"x": {"datum": -0.16, "type": "quantitative"}, "x2": {"datum": 372.2}, "y": {"datum": 10800, "type": "quantitative", "axis": null}}},
 {"data": {"name": "tags"}, "mark": {"type": "rule", "strokeWidth": 16},
  "encoding": {"x": {"datum": 372.2, "type": "quantitative"}, "x2": {"datum": 383.7}, "y": {"field": "p", "type": "quantitative", "axis": null},
   "color": {"field": "k", "type": "nominal", "scale": {"domain": ["res", "sup", "last", "line"], "range": ["#59213c", "#4f833e", "#ef5350", "#3a7bd5"]}, "legend": null}}},
 {"data": {"name": "tags"}, "mark": {"type": "text", "align": "left", "baseline": "middle", "color": "#ffffff", "fontSize": 11, "fontWeight": "bold"},
  "encoding": {"x": {"datum": 374.7, "type": "quantitative"}, "y": {"field": "p", "type": "quantitative", "axis": null}, "text": {"field": "t"}}},
 {"data": {"name": "notes"}, "mark": {"type": "text", "align": "left", "baseline": "middle", "color": "#d1d4dc", "fontSize": 12},
  "encoding": {"x": {"field": "i", "type": "quantitative"}, "y": {"field": "p", "type": "quantitative", "axis": null}, "text": {"field": "n"}}}
]},
{"layer": [
 {"data": {"name": "adg"}, "mark": {"type": "rule", "color": "#2a2e39", "strokeWidth": 1},
  "encoding": {"x": {"datum": -0.16, "type": "quantitative"}, "x2": {"datum": 372.2},
   "y": {"field": "g", "type": "quantitative", "scale": {"domain": [541304, 2889130], "nice": false, "zero": false, "padding": 0}, "axis": null}}},
 {"data": {"name": "adg"}, "mark": {"type": "rule", "color": "#787b86", "strokeWidth": 1},
  "encoding": {"x": {"datum": 372.2, "type": "quantitative"}, "x2": {"datum": 373.5}, "y": {"field": "g", "type": "quantitative", "axis": null}}},
 {"data": {"name": "adg"}, "mark": {"type": "text", "align": "left", "baseline": "middle", "color": "#b2b5be", "fontSize": 11},
  "encoding": {"x": {"datum": 374.7, "type": "quantitative"}, "y": {"field": "g", "type": "quantitative", "axis": null}, "text": {"field": "g", "type": "quantitative", "format": ".4f"}}},
 {"data": {"name": "ad"}, "mark": {"type": "line", "color": "#9e9b16", "strokeWidth": 1},
  "encoding": {"x": {"field": "i", "type": "quantitative"}, "y": {"field": "a", "type": "quantitative", "axis": null}}}
]}
]
}
